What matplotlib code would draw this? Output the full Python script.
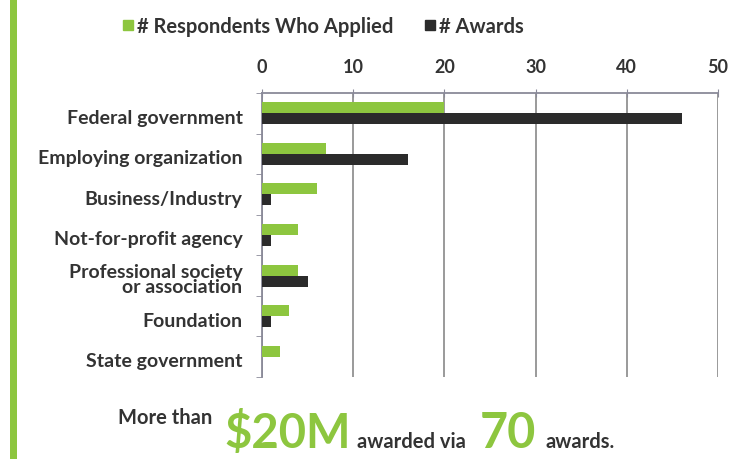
import matplotlib
matplotlib.use("Agg")
import matplotlib.pyplot as plt
from matplotlib.lines import Line2D
from matplotlib.patches import Rectangle
import numpy as np

categories = ["Federal government", "Employing organization", "Business/Industry",
              "Not-for-profit agency", "Professional society\nor association",
              "Foundation", "State government"]
applied = [20, 7, 6, 4, 4, 3, 2]
awards = [46, 16, 1, 1, 5, 1, 0]
xticks = [0, 10, 20, 30, 40, 50]

GREEN = "#8dc63f"
DARK = "#2b2b2b"
TXT = "#333333"
FONT = ["Lato", "DejaVu Sans"]

plt.rcParams['font.family'] = FONT

fig = plt.figure(figsize=(7.3, 4.6), dpi=100)
ax = fig.add_axes([262/730, 1-378/460, (718-262)/730, (378-94)/460])

y = np.arange(len(categories))
h = 0.27
ax.barh(y - h/2, applied, height=h, color=GREEN, zorder=3)
ax.barh(y + h/2, awards, height=h, color=DARK, zorder=3)

ax.set_xlim(0, 50)
ax.set_ylim(len(categories) - 0.5, -0.5)
ax.xaxis.tick_top()
ax.set_xticks(xticks)
ax.set_xticklabels([str(t) for t in xticks], fontsize=13, color=TXT, fontweight="bold")
ax.tick_params(axis="x", direction="inout", length=6, color="#8a8a99", pad=10)
ax.grid(axis="x", color="#9a9a9a", linewidth=1.4, zorder=0)

ax.set_yticks(y + 0.06)
ax.set_yticklabels(categories, fontsize=14, color=TXT, fontweight="bold", linespacing=0.9)
ax.tick_params(axis="y", length=0, pad=14)
ax.set_yticks(np.arange(len(categories) + 1) - 0.5, minor=True)
ax.tick_params(axis="y", which="minor", length=4, color="#8a8a99", direction="out")

for s in ["right", "bottom"]:
    ax.spines[s].set_visible(False)
ax.spines["top"].set_color("#8a8a99")
ax.spines["top"].set_linewidth(1.3)
ax.spines["left"].set_color("#8a8a99")
ax.spines["left"].set_linewidth(1.3)

# left decorative green bar
fig.add_artist(Rectangle((10/730, 0), 7/730, 1, transform=fig.transFigure, color=GREEN, lw=0))

# legend
handles = [Line2D([], [], marker="s", linestyle="none", markersize=7, color=GREEN),
           Line2D([], [], marker="s", linestyle="none", markersize=7, color=DARK)]
fig.legend(handles, ["# Respondents Who Applied", "# Awards"], loc="center left",
           bbox_to_anchor=(110/730, 1-27/460), ncol=2, frameon=False,
           prop={"family": FONT, "size": 14.5, "weight": "bold"}, labelcolor=TXT,
           handletextpad=0.05, columnspacing=1.4, handlelength=0.8, borderpad=0)

# bottom caption
base = 1 - 448/460
fig.text(118/730, 1-424/460, "More than", fontsize=14.5, fontweight="bold",
         color=TXT, va="baseline")
fig.text(224/730, base, "$20M", fontsize=34, fontweight="bold",
         color=GREEN, va="baseline")
fig.text(357/730, base, "awarded via", fontsize=14.5, fontweight="bold",
         color=TXT, va="baseline")
fig.text(480/730, base, "70", fontsize=35, fontweight="bold",
         color=GREEN, va="baseline")
fig.text(545/730, base, "awards.", fontsize=14.5, fontweight="bold",
         color=TXT, va="baseline")

fig.savefig("out.png", dpi=100)
